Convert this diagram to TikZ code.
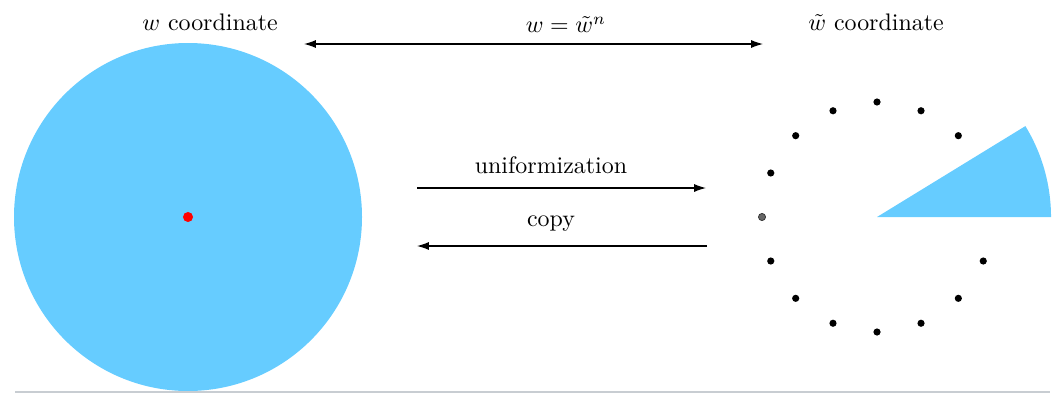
\documentclass[tikz,border=0pt]{standalone}
\usetikzlibrary{arrows.meta,calc}
\definecolor{diskblue}{RGB}{102,204,255}
\definecolor{rulegray}{RGB}{200,205,210}
\begin{document}
\begin{tikzpicture}[x=0.418pt,y=-0.418pt,
  arr/.style={-{Latex[length=5pt,width=3.4pt]},line width=0.5pt},
  darr/.style={{Latex[length=5pt,width=3.4pt]}-{Latex[length=5pt,width=3.4pt]},line width=0.5pt},
  dot/.style={circle,fill=black,inner sep=0pt,minimum size=3pt},
  lab/.style={inner sep=0pt,font=\normalsize}]
\useasboundingbox (0,0) rectangle (1057,396);
% left disk
\fill[diskblue] (188,217) circle[radius=174];
\node[circle,fill=red,inner sep=0pt,minimum size=4.2pt] (origin) at (188,217) {};
% right: wedge
\coordinate (c) at (877,217);
\fill[diskblue] (c) -- ++(0:174) arc[start angle=0,end angle=-31.5,radius=174] -- cycle;
% dots
\foreach \a in {22.5,45,67.5,90,112.5,135,157.5,202.5,225,247.5,270,292.5,315}
  \node[dot] at ($(c)+(\a:115)$) {};
\node[circle,fill=gray!80!black,draw=black!80,line width=0.3pt,inner sep=0pt,minimum size=3pt] (g) at (762,217) {};
% labels
\node[lab] (wl) at (210,22) {$w$ coordinate};
\node[lab] (wr) at (876,22) {$\tilde w$ coordinate};
\node[lab] (eq) at (566,25) {$w=\tilde w^n$};
\coordinate (t1) at (304,44);
\coordinate (t2) at (763,44);
\draw[darr] (t1) -- (t2);
\node[lab] (uni) at (551,165) {uniformization};
\coordinate (u1) at (417,188);
\coordinate (u2) at (706,188);
\draw[arr] (u1) -- (u2);
\node[lab] (cp) at (551,224) {copy};
\coordinate (p1) at (707,246);
\coordinate (p2) at (417,246);
\draw[arr] (p1) -- (p2);
% bottom rule
\coordinate (r1) at (15,392);
\coordinate (r2) at (1050,392);
\draw[rulegray,line width=0.6pt] (r1) -- (r2);
\end{tikzpicture}
\end{document}
